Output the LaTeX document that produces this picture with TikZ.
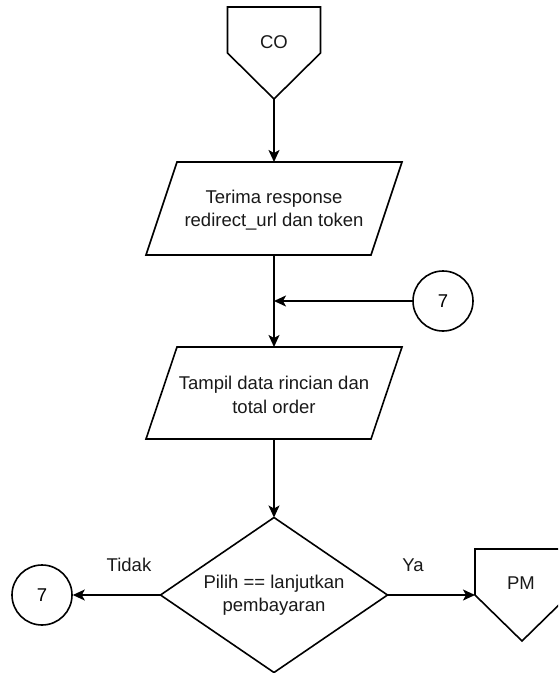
\documentclass[tikz,border=0pt]{standalone}
\usepackage{fontspec}
\setmainfont{Liberation Sans}
\usetikzlibrary{arrows.meta}
\begin{document}
\begin{tikzpicture}[x=1pt,y=-1pt,
  outline/.style={draw=black, line width=1.6pt, line join=miter},
  anchorbox/.style={rectangle, inner sep=0pt, outer sep=0pt},
  txt/.style={font=\fontsize{18.5}{23.5}\selectfont, align=center, inner sep=0pt, text=black!90},
  flow/.style={draw=black, line width=1.6pt, -{Stealth[length=12pt, width=11pt, inset=3pt]}},
  conn/.style={circle, draw=black, line width=1.6pt, minimum size=60pt, inner sep=0pt,
               font=\fontsize{18.5}{23.5}\selectfont}]
\useasboundingbox (0,0) rectangle (558,673);
\clip (0,0) rectangle (558,673);

% off-page connector "CO"
\node[anchorbox, minimum width=93pt, minimum height=92pt] (co) at (274,53) {};
\draw[outline] (co.north west) -- (co.north east) -- (co.east) -- (co.south) -- (co.west) -- cycle;
\node[txt] (co-t) at (274,42) {CO};

% input/output: response
\node[anchorbox, minimum width=256pt, minimum height=93pt] (p1) at (274,208.5) {};
\draw[outline] ([xshift=31pt]p1.north west) -- (p1.north east)
  -- ([xshift=-31pt]p1.south east) -- (p1.south west) -- cycle;
\node[txt] (p1-t) at (274,210) {Terima response\\redirect\_url dan token};

% on-page connector 7 (incoming)
\node[conn] (c7in) at (443,301) {7};
\coordinate (join) at (274,301);

% input/output: order details
\node[anchorbox, minimum width=256pt, minimum height=92pt] (p2) at (274,393) {};
\draw[outline] ([xshift=31pt]p2.north west) -- (p2.north east)
  -- ([xshift=-31pt]p2.south east) -- (p2.south west) -- cycle;
\node[txt] (p2-t) at (274,395) {Tampil data rincian dan\\total order};

% decision
\node[anchorbox, minimum width=227pt, minimum height=155pt] (dec) at (274,595) {};
\draw[outline] (dec.north) -- (dec.east) -- (dec.south) -- (dec.west) -- cycle;
\node[txt] (dec-t) at (274,595) {Pilih == lanjutkan\\pembayaran};

% on-page connector 7 (outgoing)
\node[conn] (c7out) at (42,595) {7};

% off-page connector "PM"
\node[anchorbox, minimum width=94pt, minimum height=92pt] (pm) at (522,595) {};
\draw[outline] (pm.north west) -- (pm.north east) -- (pm.east) -- (pm.south) -- (pm.west) -- cycle;
\node[txt] (pm-t) at (521,583) {PM};

% connectors
\draw[flow] (co.south) -- (p1.north);
\draw[flow] (p1.south) -- (p2.north);
\draw[flow] (c7in.west) -- (join);
\draw[flow] (p2.south) -- (dec.north);
\draw[flow] (dec.west) -- (c7out.east);
\draw[flow] (dec.east) -- (pm.west);

% branch labels
\node[txt] (lbl-no) at (129,565) {Tidak};
\node[txt] (lbl-yes) at (413,565) {Ya};
\end{tikzpicture}
\end{document}
